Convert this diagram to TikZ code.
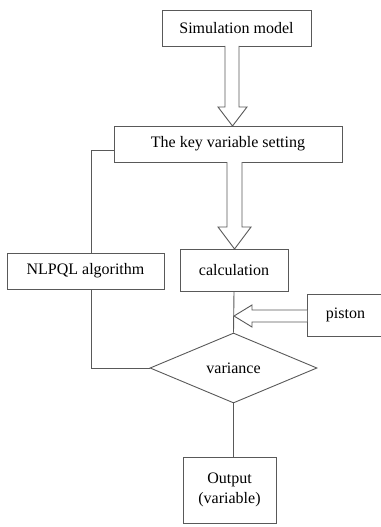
\documentclass[tikz,border=0pt]{standalone}
\usepackage{fontspec}
\setmainfont{Liberation Serif}
\usetikzlibrary{shapes.geometric}
\begin{document}
\begin{tikzpicture}[x=1pt,y=-1pt,
  ln/.style={draw=black!65, line width=0.9pt},
  boxn/.style={ln, rectangle, inner sep=0pt, font=\fontsize{16}{19.5}\selectfont, align=center},
  hollow/.style={ln, fill=white, line join=miter}]
\useasboundingbox (0,0) rectangle (380,527);
\node[boxn, minimum width=149pt, minimum height=36pt] (sim) at (236.5,28) {Simulation model};
\node[boxn, minimum width=228pt, minimum height=36pt] (key) at (228,144) {The key variable setting};
\node[boxn, minimum width=108pt, minimum height=42pt] (calc) at (234,270) {calculation};
\node[boxn, minimum width=157pt, minimum height=36pt] (nlp) at (85.5,271) {NLPQL algorithm};
\node[boxn, minimum width=77pt, minimum height=42pt] (pis) at (345.5,315) {piston};
\node[ln, shape=diamond, inner sep=0pt, minimum width=167pt, minimum height=70pt, aspect=2.4, font=\fontsize{16}{19.5}\selectfont] (dia) at (233.5,368) {variance};
\node[boxn, minimum width=93pt, minimum height=66pt] (out) at (229.5,490) {Output\\(variable)};
% hollow arrows
\draw[hollow] (225,46) -- (225,107) -- (218,107) -- (232.5,126) -- (247,107) -- (239,107) -- (239,46);
\draw[hollow] (227,162) -- (227,227) -- (218,227) -- (234.5,249) -- (251,227) -- (242,227) -- (242,162);
\draw[hollow] (307,310) -- (252,310) -- (252,305) -- (234,316) -- (252,327) -- (252,322) -- (307,322);
% connectors
\draw[ln] (key.west |- 0,150) -| (nlp.north -| 91,0);
\draw[ln] (nlp.south -| 91,0) |- (dia.west);
\draw[ln] (calc.south) -- (dia.north);
\draw[ln] (dia.south) -- (out.north -| dia.south);
\end{tikzpicture}
\end{document}
